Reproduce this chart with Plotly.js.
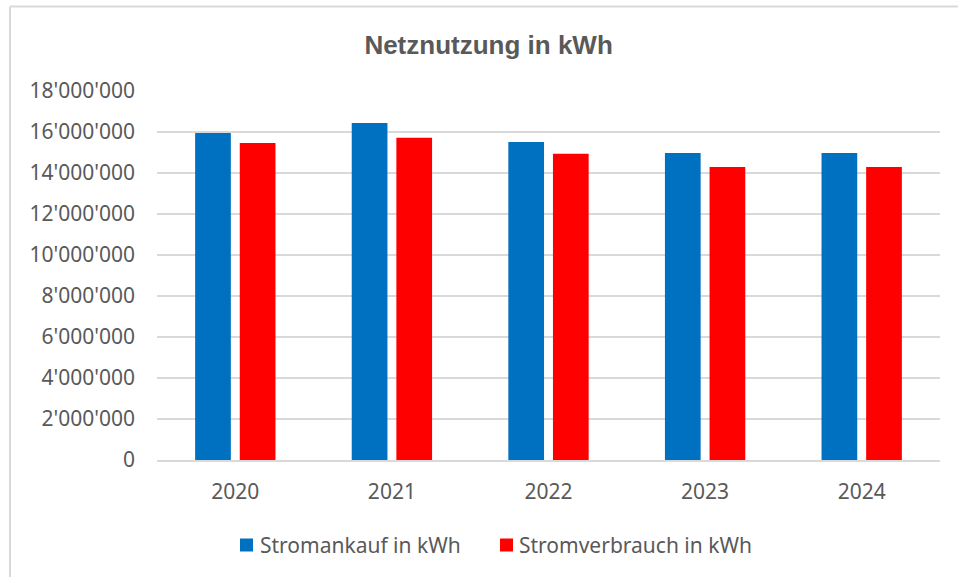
<!DOCTYPE html>
<html>
<head>
<meta charset="utf-8">
<script src="https://cdn.plot.ly/plotly-3.0.1.min.js"></script>
<style>html,body{margin:0;padding:0;background:#fff;}#chart{width:958px;height:577px;}</style>
</head>
<body>
<div id="chart"></div>
<script>
const years = ["2020", "2021", "2022", "2023", "2024"];
const stromankauf = [15950000, 16440000, 15510000, 14980000, 14980000];
const stromverbrauch = [15460000, 15720000, 14940000, 14290000, 14290000];
const seriesNames = ["Stromankauf in kWh", "Stromverbrauch in kWh"];
const seriesColors = ["#0070c0", "#ff0000"];
const yTickVals = [0, 2000000, 4000000, 6000000, 8000000, 10000000, 12000000, 14000000, 16000000, 18000000];
const yTickText = ["0", "2'000'000", "4'000'000", "6'000'000", "8'000'000", "10'000'000", "12'000'000", "14'000'000", "16'000'000", "18'000'000"];

const W = 958, H = 577;
const L = 157, R = 18, T = 91, B = 117;
const pw = W - L - R, ph = H - T - B;
const px = x => (x - L) / pw;
const py = y => (H - B - y) / ph;

const fontFam = "'Noto Sans', 'Open Sans', sans-serif";
const grey = "#595959";

const traces = [
  {type: "bar", name: seriesNames[0], x: years, y: stromankauf,
   marker: {color: seriesColors[0]}, hoverinfo: "skip"},
  {type: "bar", name: seriesNames[1], x: years, y: stromverbrauch,
   marker: {color: seriesColors[1]}, hoverinfo: "skip"}
];

// custom legend (squares + text) positioned like the reference
const legendSquares = [240, 500];
const legendTexts = [258, 517];
const legY = 545, sq = 13;
const legendShapes = seriesColors.map((c, i) => ({
  type: "rect", xref: "paper", yref: "paper",
  x0: px(legendSquares[i]), x1: px(legendSquares[i] + sq),
  y0: py(legY + sq / 2), y1: py(legY - sq / 2),
  fillcolor: c, line: {width: 0}
}));
const legendAnnots = seriesNames.map((n, i) => ({
  text: n, xref: "paper", yref: "paper", x: px(legendTexts[i]), y: py(legY),
  xanchor: "left", yanchor: "middle", showarrow: false,
  font: {family: fontFam, size: 21, color: grey}
}));

const layout = {
  width: W, height: H,
  margin: {l: L, r: R, t: T, b: B, pad: 0},
  paper_bgcolor: "#ffffff", plot_bgcolor: "#ffffff",
  title: {text: "<b>Netznutzung in kWh</b>", x: 0.51, xanchor: "center", y: 1 - 45 / H, yanchor: "middle",
          font: {family: "'Liberation Sans', Arial, sans-serif", size: 26, color: grey}},
  barmode: "group", bargap: 0.43, bargroupgap: 0.2,
  showlegend: false,
  xaxis: {type: "category", showgrid: false, zeroline: false, showline: true, linecolor: "#d9d9d9", linewidth: 1.5,
          ticks: "", tickfont: {family: fontFam, size: 21, color: grey}, ticklabelstandoff: 12, fixedrange: true},
  yaxis: {range: [0, 18000000], tickvals: yTickVals, ticktext: yTickText, showgrid: true, gridcolor: "#d9d9d9", gridwidth: 1.5,
          zeroline: false, showline: false, ticks: "", tickfont: {family: fontFam, size: 21, color: grey},
          ticklabelstandoff: 21, fixedrange: true},
  annotations: legendAnnots,
  shapes: [
    {type: "line", xref: "paper", yref: "paper", x0: px(10), x1: px(10), y0: py(6.5), y1: py(600), line: {color: "#d9d9d9", width: 2}},
    {type: "line", xref: "paper", yref: "paper", x0: px(10), x1: px(980), y0: py(6.5), y1: py(6.5), line: {color: "#d9d9d9", width: 2}}
  ].concat(legendShapes)
};

Plotly.newPlot("chart", traces, layout, {displayModeBar: false, staticPlot: true});
</script>
</body>
</html>
